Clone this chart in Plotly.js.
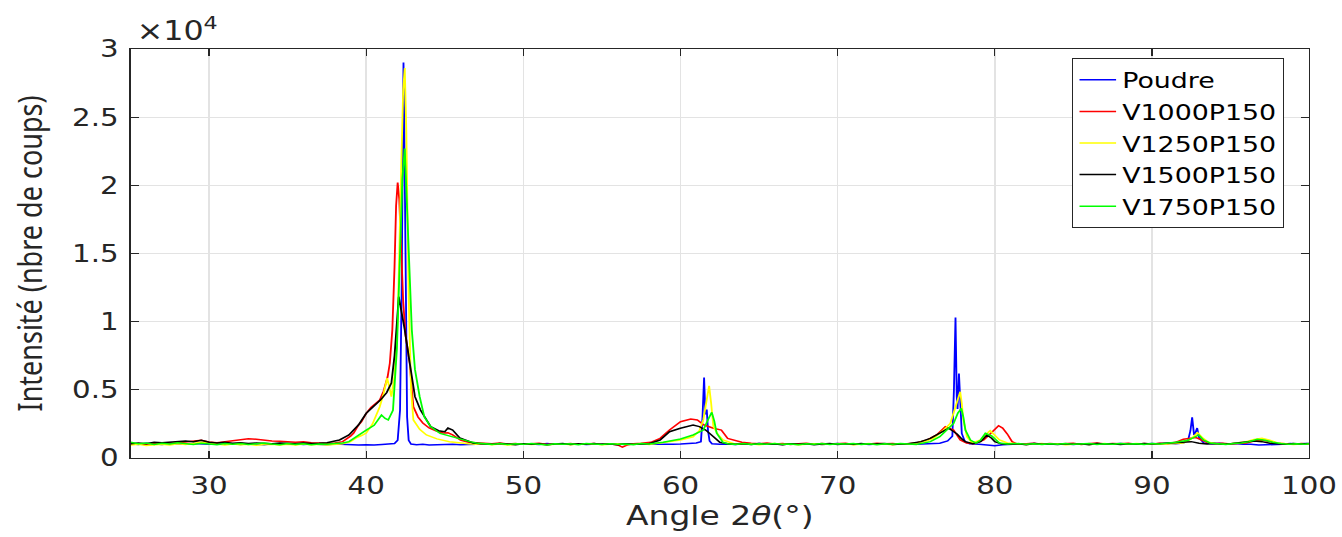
<!DOCTYPE html>
<html>
<head>
<meta charset="utf-8">
<script src="https://cdn.plot.ly/plotly-3.0.1.min.js"></script>
<style>
html,body{margin:0;padding:0;background:#fff;overflow:hidden;}
#wrap{width:1342px;height:537px;overflow:hidden;}
#chart{width:1100px;height:537px;transform:scaleX(1.22);transform-origin:0 0;}
</style>
</head>
<body>
<div id="wrap"><div id="chart"></div></div>
<script>
// Series names
const seriesNames = ['Poudre', 'V1000P150', 'V1250P150', 'V1500P150', 'V1750P150'];
const seriesColors = ['#0000ff', '#ff0000', '#ffff00', '#000000', '#00ff00'];

// Poudre (blue)
const poudreX = [25,25.5,26,26.5,27,27.5,28,28.5,29,29.5,30,30.5,31,31.5,32,32.5,33,33.5,34,34.5,35,35.5,36,36.5,37,37.5,38,38.5,39,39.5,40,40.5,41,41.5,
  41.8,42.0,42.15,42.25,42.32,42.37,42.42,42.5,42.6,42.7,42.85,43.2,43.6,
  44,44.5,45,45.5,46,46.5,47,47.5,48,48.5,49,49.5,50,50.5,51,51.5,52,52.5,53,53.5,54,54.5,55,55.5,56,56.5,57,57.5,58,58.5,59,59.5,60,60.5,61,
  61.3,61.4,61.5,61.58,61.67,61.75,61.85,62,
  62.5,63,63.5,64,64.5,65,65.5,66,66.5,67,67.5,68,68.5,69,69.5,70,70.5,71,71.5,72,72.5,73,73.5,74,74.5,75,75.5,76,76.5,77,
  77.3,77.4,77.5,77.58,77.63,77.72,77.8,77.9,78.1,78.4,
  79,79.5,80,80.5,81,81.5,82,82.5,83,83.5,84,84.5,85,85.5,86,86.5,87,87.5,88,88.5,89,89.5,90,90.5,91,91.5,92,
  92.3,92.45,92.56,92.68,92.75,92.88,93,93.3,
  93.8,94.3,94.8,95.3,95.8,96.3,96.8,97.3,97.8,98.3,98.8,99.3,99.8,100];
const poudreY = [1050,1000,1080,1020,990,1060,1030,1000,1070,1040,1010,1060,1000,1040,990,1050,1020,980,1040,1010,1000,1050,990,1030,1000,970,1020,990,1000,960,980,950,990,1010,
  1060,1300,3500,12000,24000,29000,24500,11000,3000,1300,1020,980,1000,
  960,990,970,1000,980,1010,990,1030,1000,1040,1010,1050,1000,1030,990,1060,1010,1030,1000,1040,990,1020,1050,1000,1030,990,1040,1010,1000,1030,990,1000,1020,1060,1100,
  1200,3000,5900,3200,3550,2000,1250,1050,
  1000,1030,990,1040,1010,1060,1000,1030,990,1050,1020,1000,1040,990,1030,1060,1000,1020,1050,990,1030,1010,1050,1000,1040,1010,1020,1060,1080,1250,
  1600,5000,10300,4500,3600,6200,3500,1800,1200,1050,
  1000,950,900,980,1000,1040,1010,1060,1020,1000,1030,1050,990,1040,1020,1060,1000,1030,1070,1010,1050,1020,1060,1030,1080,1050,1100,
  1300,2000,2980,1700,1800,2200,1500,1100,
  1050,1080,1030,1060,1000,1010,950,960,980,1010,1060,1030,1070,1040];

// V1000P150 (red)
const v1000X = [25,25.5,26,26.5,27,27.5,28,28.5,29,29.5,30,30.5,31,31.5,32,32.5,33,33.5,34,34.5,35,35.5,36,36.5,37,37.5,38,38.5,39,
  39.2,39.5,39.7,40,40.3,40.6,40.86,41.1,41.36,41.5,41.66,41.8,41.9,42.0,42.1,42.2,42.35,42.5,42.65,42.77,42.9,43.0,43.3,43.6,44.0,44.5,44.9,45.2,45.5,46.0,46.5,
  47,47.5,48,48.5,49,49.5,50,50.5,51,51.5,52,52.5,53,53.5,54,54.5,55,55.5,56,
  56.3,56.6,57,57.5,58,
  58.1,58.7,59.3,60,60.65,61.07,61.5,62.1,62.6,63.0,63.4,63.9,64.5,
  65,65.5,66,66.5,67,67.5,68,68.5,69,69.5,70,70.5,71,71.5,72,72.5,73,73.5,74,74.5,75,
  75.7,76.3,76.85,77.1,77.38,77.8,78.2,78.7,79.3,79.7,80.24,80.5,80.8,81.1,81.4,
  82,82.5,83,83.5,84,84.5,85,85.5,86,86.5,87,87.5,88,88.5,89,89.5,90,90.5,91,91.5,92,92.5,
  92.8,93.2,93.6,
  94,94.5,95,95.5,96,96.5,97,97.5,98,98.5,99,99.5,100];
const v1000Y = [1000,1050,980,1080,1030,1100,1120,1180,1250,1300,1180,1120,1200,1280,1350,1420,1380,1300,1250,1220,1180,1150,1200,1120,1100,1060,1100,1200,1600,
  1830,2400,2660,3280,3700,4000,4250,4900,5960,6950,9400,14000,18500,20200,19000,16000,11500,9000,7800,6950,5000,3760,3000,2570,2200,1950,1830,1850,1700,1320,1150,
  1100,1080,1050,1100,1020,1060,1000,1040,1080,990,1050,1010,1060,1000,1030,1070,1000,1040,960,
  800,950,1050,1080,1100,
  1150,1440,2050,2660,2860,2790,2420,2180,2050,1440,1320,1150,1080,
  1050,1100,1020,1070,1000,1050,1090,1010,1060,1030,1030,1080,1000,1050,1020,1090,1040,1070,1010,1060,1100,
  1320,1690,2300,2200,2050,1320,1100,1050,1320,1760,2370,2200,1760,1200,1030,
  1050,1090,1010,1060,1020,1030,1080,1000,1050,1100,1020,1070,1040,1090,1010,1060,1030,1080,1050,1150,1370,1450,
  1500,1300,1100,
  1060,1090,1030,1080,1100,1250,1320,1200,1080,1040,1000,1060,1030];

// V1250P150 (yellow)
const v1250X = [25,25.5,26,26.5,27,27.5,28,28.5,29,29.5,30,30.5,31,31.5,32,32.5,33,33.5,34,34.5,35,35.5,36,36.5,37,37.5,38,38.5,39,
  39.36,39.7,40.0,40.4,40.86,41.1,41.33,41.45,41.6,41.8,42.0,42.2,42.35,42.45,42.55,42.7,42.85,43.0,43.4,43.83,44.5,45.3,
  46,46.5,47,47.5,48,48.5,49,49.5,50,50.5,51,51.5,52,52.5,53,53.5,54,54.5,55,55.5,56,56.5,57,57.5,58,58.5,
  58.9,60.0,60.8,61.2,61.45,61.65,61.82,61.95,62.09,62.4,62.7,63.4,
  64,64.5,65,65.5,66,66.5,67,67.5,68,68.5,69,69.5,70,70.5,71,71.5,72,72.5,73,73.5,74,74.5,75,75.5,
  76.1,76.75,77.17,77.38,77.6,77.8,77.9,78.0,78.23,78.55,79.1,79.4,79.71,80.0,80.3,80.8,
  81.5,82,82.5,83,83.5,84,84.5,85,85.5,86,86.5,87,87.5,88,88.5,89,89.5,90,90.5,91,91.5,92,
  92.5,92.9,93.2,93.6,
  94,94.5,95,95.5,96,96.5,97,97.5,98,98.5,99,99.5,100];
const v1250Y = [950,1000,920,980,1010,960,1050,1000,1080,1150,1100,1000,950,1020,970,1000,940,990,1010,960,1000,950,1020,980,1000,960,1010,1050,1200,
  1470,1650,1830,2500,3760,4700,5850,5300,4500,6000,10000,20000,27000,28600,24000,12000,5000,2790,2100,1690,1400,1200,
  1080,1050,1000,1040,980,1020,960,1010,1050,990,1030,970,1010,1040,980,1020,1000,1050,970,1010,1040,990,1020,1060,1000,1080,
  1100,1320,1560,2000,2790,4200,5300,4000,2300,1700,1320,1050,
  1000,1040,980,1020,1060,990,1030,970,1010,1050,990,1030,1000,1040,970,1020,1060,1000,1030,980,1050,1010,1100,1200,
  1440,2050,2540,3280,4200,4860,4000,2790,1560,1100,1320,1700,2000,1700,1320,1100,
  1040,990,1030,1060,1000,1040,980,1020,1050,990,1030,1070,1000,1040,1010,1060,1020,1050,1000,1040,1080,1100,
  1400,1860,1500,1150,
  1060,1000,1040,1100,1200,1350,1440,1300,1100,1050,990,1030,1000];

// V1500P150 (black)
const v1500X = [25,25.5,26,26.5,27,27.5,28,28.5,29,29.5,30,30.5,31,31.5,32,32.5,33,33.5,34,34.5,35,35.5,36,36.5,37,37.5,38,
  38.3,38.9,39.5,40.0,40.5,40.9,41.3,41.6,41.8,41.95,42.07,42.2,42.45,42.77,43.1,43.45,44.1,44.6,45.0,45.2,45.5,45.95,46.4,46.8,47.3,
  48,48.5,49,49.5,50,50.5,51,51.5,52,52.5,53,53.5,54,54.5,55,55.5,56,56.5,57,57.5,58,
  58.7,59.3,59.99,60.8,61.2,61.6,62.1,62.5,
  63,63.5,64,64.5,65,65.5,66,66.5,67,67.5,68,68.5,69,69.5,70,70.5,71,71.5,72,72.5,73,73.5,74,74.5,
  75.3,75.9,76.5,77.06,77.3,77.6,77.9,78.13,78.6,79.1,79.5,79.8,80.0,80.4,
  81,81.5,82,82.5,83,83.5,84,84.5,85,85.5,86,86.5,87,87.5,88,88.5,89,89.5,90,90.5,91,91.5,92,92.5,93,93.5,94,94.5,95,95.5,96,96.5,97,97.5,98,98.5,99,99.5,100];
const v1500Y = [1050,1100,1050,1150,1120,1180,1200,1250,1200,1300,1150,1100,1150,1080,1120,1060,1100,1080,1050,1100,1070,1040,1100,1060,1080,1120,1250,
  1320,1690,2420,3280,3800,4250,4800,5500,7500,10500,11830,11000,9400,6950,4500,3520,2300,2000,1930,2200,2050,1470,1250,1100,1050,
  1000,1060,1020,980,1050,1000,1040,970,1030,1060,990,1040,1010,1070,1000,1030,980,1050,1010,1040,1050,
  1320,1930,2180,2420,2300,2050,1560,1150,
  1050,1000,1040,990,1060,1010,1030,980,1050,1000,1040,970,1020,1060,990,1040,1010,1070,1000,1030,1060,990,1020,1050,
  1200,1440,1830,2180,2000,1760,1400,1200,1050,1200,1690,1450,1200,1050,
  1000,1040,980,1060,1010,1030,990,1050,1000,1040,980,1060,1020,1050,990,1040,1010,1060,1030,1070,1100,1150,1200,1200,1080,1030,1060,1000,1040,1100,1180,1250,1200,1080,1040,1000,1060,1030,1070];

// V1750P150 (green)
const v1750X = [25,25.5,26,26.5,27,27.5,28,28.5,29,29.5,30,30.5,31,31.5,32,32.5,33,33.5,34,34.5,35,35.5,36,36.5,37,37.5,38,38.5,
  38.9,39.5,40.0,40.5,40.97,41.2,41.4,41.7,41.95,42.15,42.3,42.45,42.6,42.75,42.9,43.1,43.4,43.7,44.1,44.7,45.4,46.0,46.6,
  47,47.5,48,48.5,49,49.5,50,50.5,51,51.5,52,52.5,53,53.5,54,54.5,55,55.5,56,56.5,57,57.5,58,
  58.9,60,60.8,61.45,61.75,61.99,62.15,62.3,62.7,
  63,63.5,64,64.5,65,65.5,66,66.5,67,67.5,68,68.5,69,69.5,70,70.5,71,71.5,72,72.5,73,73.5,74,74.5,75,
  75.9,76.5,77.06,77.38,77.65,77.87,78.0,78.13,78.45,78.8,79.1,79.4,79.8,80.3,80.8,
  81.5,82,82.5,83,83.5,84,84.5,85,85.5,86,86.5,87,87.5,88,88.5,89,89.5,90,90.5,91,91.5,
  92.3,92.98,93.3,93.7,
  94.2,94.7,95.2,95.7,96.2,96.7,97.2,97.7,98.2,98.7,99.2,99.7,100];
const v1750Y = [1150,1050,1100,1000,1080,1030,1120,1060,1000,1090,1040,980,1070,1010,1060,990,1040,1100,1020,980,1060,1000,1050,970,1030,1010,1060,1100,
  1200,1690,2050,2400,3150,2900,2790,3500,8000,15000,20500,22700,18000,12500,9400,6500,4500,3000,2300,1800,1560,1350,1200,
  1100,1050,1000,1060,990,1040,1000,1070,1010,960,1050,1000,1040,980,1060,1010,990,1050,1000,1030,970,1060,1020,
  1150,1390,1690,2050,2800,3350,2700,1830,1150,
  1050,1000,1060,990,1040,1010,1070,1000,1030,980,1050,1010,1060,990,1040,1020,1070,1000,1050,980,1040,1010,1060,1030,1000,
  1200,1560,2180,2540,3300,3640,3000,2050,1320,1100,1320,1810,1620,1100,1030,
  1060,1000,1040,990,1050,1010,1070,1000,1030,1060,990,1040,1010,1070,1020,1050,1000,1060,1030,1080,1150,
  1300,1690,1300,1100,
  1050,1000,1060,1100,1200,1370,1300,1150,1060,1000,1040,1010,1050];

const tickX = [30, 40, 50, 60, 70, 80, 90, 100];
const tickY = [0, 5000, 10000, 15000, 20000, 25000, 30000];
const tickYText = ['0', '0.5', '1', '1.5', '2', '2.5', '3'];

const xs = [poudreX, v1000X, v1250X, v1500X, v1750X];
const ys = [poudreY, v1000Y, v1250Y, v1500Y, v1750Y];

const traces = seriesNames.map((n, i) => ({
  type: 'scatter', mode: 'lines', name: n,
  x: xs[i], y: ys[i],
  line: {color: seriesColors[i], width: 1.5}
}));

const axisFont = {family: 'DejaVu Sans', size: 24, color: '#262626'};

const layout = {
  width: 1100, height: 537,
  margin: {l: 107, r: 27, t: 49, b: 79},
  paper_bgcolor: '#fff', plot_bgcolor: '#fff',
  showlegend: true,
  legend: {
    x: 0.799, y: 0.978, xanchor: 'left', yanchor: 'top',
    bgcolor: '#fff', bordercolor: '#262626', borderwidth: 1,
    font: {family: 'DejaVu Sans', size: 22, color: '#000'},
    tracegroupgap: 0
  },
  xaxis: {
    range: [25, 100], tickvals: tickX, ticks: 'inside', ticklen: 7, tickcolor: '#262626',
    showline: true, linecolor: '#262626', linewidth: 1, mirror: 'ticks',
    showgrid: true, gridcolor: '#e3e3e3', gridwidth: 1.3, zeroline: false,
    tickfont: axisFont, ticklabelstandoff: 6,
    title: {text: 'Angle 2<i>θ</i>(°)', font: {family: 'DejaVu Sans', size: 27, color: '#262626'}, standoff: 1}
  },
  yaxis: {
    range: [0, 30000], tickvals: tickY, ticktext: tickYText, ticks: 'inside', ticklen: 7, tickcolor: '#262626',
    showline: true, linecolor: '#262626', linewidth: 1, mirror: 'ticks',
    showgrid: true, gridcolor: '#e3e3e3', gridwidth: 1.3, zeroline: false,
    tickfont: axisFont, ticklabelstandoff: 4,
    title: {text: 'Intensité (nbre de coups)', font: {family: 'Noto Sans', size: 27, color: '#262626'}, standoff: 16}
  },
  annotations: [
    {xref: 'paper', yref: 'paper', x: 0.003, y: 1.003, xanchor: 'left', yanchor: 'bottom',
     text: '×10<sup>4</sup>', showarrow: false, font: {family: 'DejaVu Sans', size: 26, color: '#262626'}},
    {xref: 'paper', yref: 'paper', x: 0.462, y: 1.115, xanchor: 'center', yanchor: 'bottom',
     text: '(a)', showarrow: false, font: {family: 'DejaVu Sans', size: 24, color: '#262626'}}
  ]
};

Plotly.newPlot('chart', traces, layout, {displayModeBar: false, staticPlot: true});
</script>
</body>
</html>
